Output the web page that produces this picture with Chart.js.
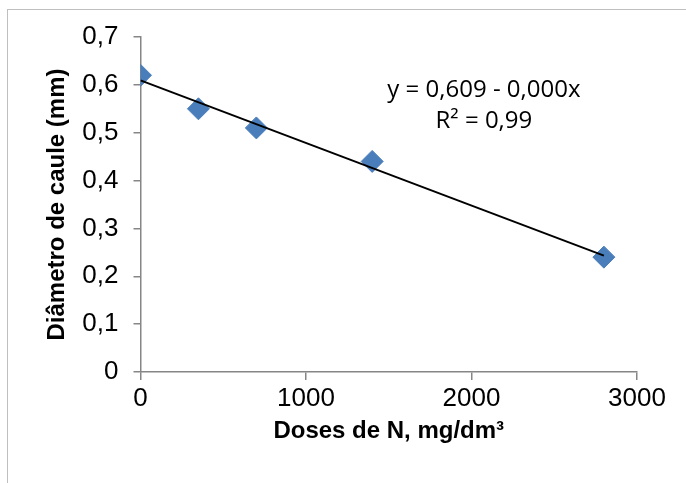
<!DOCTYPE html>
<html>
<head>
<meta charset="utf-8">
<script src="https://cdn.jsdelivr.net/npm/chart.js@4.4.0/dist/chart.umd.min.js"></script>
<style>
    html, body { margin: 0; padding: 0; background: #ffffff; }
    #wrap { position: relative; width: 686px; height: 483px; }
    #frame {
        position: absolute; left: 7px; top: 9px; width: 700px; height: 500px;
        border-left: 1px solid #bfbfbf; border-top: 1px solid #bfbfbf;
    }
    canvas { position: absolute; left: 0; top: 0; }
</style>
</head>
<body>
<div id="wrap">
    <div id="frame"></div>
    <canvas id="chart" width="686" height="483"></canvas>
</div>
<script>
// Doses de N (mg/dm3) and stem diameter (mm)
const doses = [0, 350, 700, 1400, 2800];
const diametro = [0.62, 0.55, 0.51, 0.44, 0.24];

const xTicks = [0, 1000, 2000, 3000];
const yTickLabels = ['0', '0,1', '0,2', '0,3', '0,4', '0,5', '0,6', '0,7'];

const equationLines = ['y = 0,609 - 0,000x', 'R\u00B2 = 0,99'];

// least squares trendline, like the spreadsheet does
function linearFit(xs, ys) {
    const n = xs.length;
    const mx = xs.reduce((a, b) => a + b, 0) / n;
    const my = ys.reduce((a, b) => a + b, 0) / n;
    let sxy = 0, sxx = 0;
    for (let i = 0; i < n; i++) {
        sxy += (xs[i] - mx) * (ys[i] - my);
        sxx += (xs[i] - mx) * (xs[i] - mx);
    }
    const slope = sxy / sxx;
    return { slope: slope, intercept: my - slope * mx };
}

const fit = linearFit(doses, diametro);
const trendX = [doses[0], doses[doses.length - 1]];
const trendPoints = trendX.map(x => ({ x: x, y: fit.intercept + fit.slope * x }));

const equationLabel = {
    id: 'equationLabel',
    afterDatasetsDraw(chart) {
        const ctx = chart.ctx;
        const x = chart.scales.x.getPixelForValue(2075);
        const y = chart.scales.y.getPixelForValue(0.589);
        ctx.save();
        ctx.fillStyle = '#000000';
        ctx.font = '24px "Open Sans", sans-serif';
        ctx.textAlign = 'center';
        ctx.textBaseline = 'middle';
        equationLines.forEach((line, i) => {
            ctx.fillText(line, x, y + i * 31);
        });
        ctx.restore();
    }
};

const axisColor = '#868686';
const titleFont = '"Liberation Sans", Arial, sans-serif';

new Chart(document.getElementById('chart'), {
    type: 'scatter',
    data: {
        datasets: [{
            type: 'line',
            label: 'Tendência',
            data: trendPoints,
            borderColor: '#000000',
            borderWidth: 2,
            pointRadius: 0,
            fill: false
        }, {
            label: 'Diâmetro de caule',
            data: doses.map((d, i) => ({ x: d, y: diametro[i] })),
            pointStyle: 'rectRot',
            pointRadius: 11,
            pointHoverRadius: 11,
            backgroundColor: '#4a7ebb',
            borderColor: '#4a7ebb',
            borderWidth: 1
        }]
    },
    options: {
        responsive: false,
        animation: false,
        layout: { padding: { left: 0, right: 49, top: 37, bottom: 0 } },
        plugins: {
            legend: { display: false },
            tooltip: { enabled: false }
        },
        scales: {
            x: {
                type: 'linear',
                min: 0,
                max: 3000,
                afterFit: scale => { scale.height = 111; },
                afterBuildTicks: scale => { scale.ticks = xTicks.map(v => ({ value: v })); },
                border: { color: axisColor, width: 1.5 },
                grid: { drawOnChartArea: false, drawTicks: true, tickLength: 8, color: axisColor, lineWidth: 1.5 },
                ticks: {
                    padding: 3,
                    color: '#000000',
                    font: { family: '"Liberation Sans", Arial, sans-serif', size: 26 },
                    callback: v => String(v)
                },
                title: {
                    display: true,
                    text: 'Doses de N, mg/dm\u00B3',
                    color: '#000000',
                    padding: { top: 0, bottom: 37 },
                    font: { family: titleFont, size: 24, weight: 'bold' }
                }
            },
            y: {
                min: 0,
                max: 0.7,
                afterFit: scale => { scale.width = 140.5; },
                border: { color: axisColor, width: 1.5 },
                grid: { drawOnChartArea: false, drawTicks: true, tickLength: 7, color: axisColor, lineWidth: 1.5 },
                ticks: {
                    stepSize: 0.1,
                    padding: 15,
                    color: '#000000',
                    font: { family: '"Liberation Sans", Arial, sans-serif', size: 26 },
                    callback: (v, i) => yTickLabels[i]
                },
                title: {
                    display: true,
                    text: 'Diâmetro de caule (mm)',
                    color: '#000000',
                    padding: { top: 43, bottom: 0 },
                    font: { family: titleFont, size: 24, weight: 'bold' }
                }
            }
        }
    },
    plugins: [equationLabel]
});
</script>
</body>
</html>
